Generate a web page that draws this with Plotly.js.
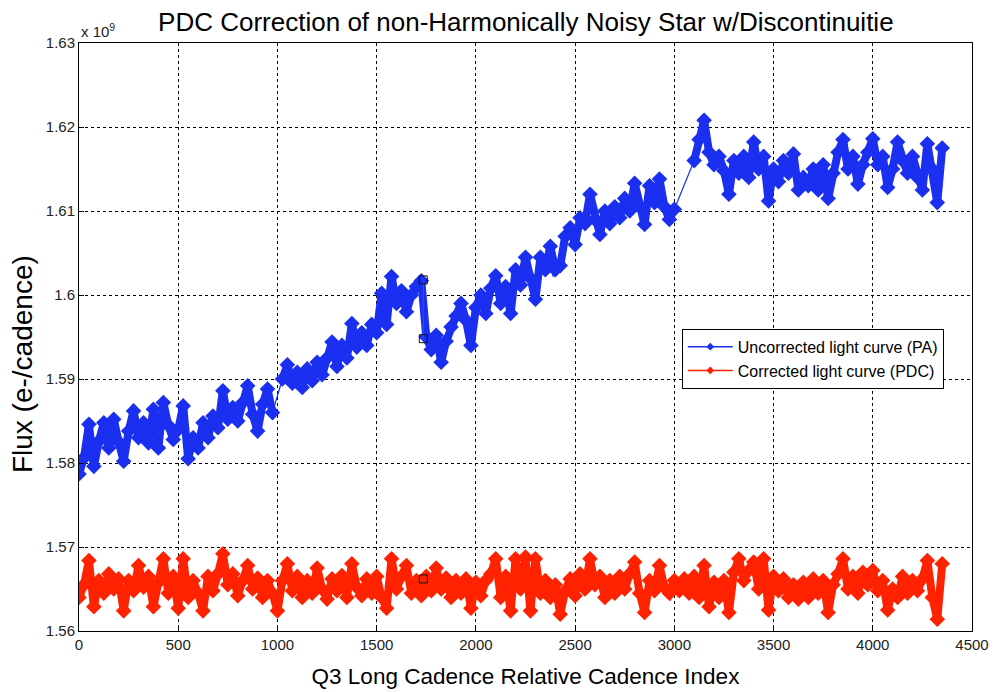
<!DOCTYPE html>
<html>
<head>
<meta charset="utf-8">
<script src="https://cdn.plot.ly/plotly-2.35.2.min.js"></script>
<style>
html,body{margin:0;padding:0;background:#fff;}
#chart{width:995px;height:692px;}
</style>
</head>
<body>
<div id="chart"></div>
<script>
// Cadence sampling of the read-off values (every 25 cadences, starting at 0)
const cadenceStart = 0;
const cadenceStep = 25;

// Uncorrected light curve (PA), flux in units of 1e9 e-/cadence (null = data gap)
const paFlux = [
1.5787,1.5806,1.5846,1.5796,1.5826,1.5848,1.5818,1.5852,1.5825,1.5802,
1.5838,1.5862,1.5830,1.5848,1.5824,1.5864,1.5818,1.5872,1.5845,1.5828,
1.5840,1.5868,1.5805,1.5830,1.5818,1.5848,1.5830,1.5856,1.5842,1.5886,
1.5852,1.5866,1.5850,1.5872,1.5892,1.5858,1.5838,1.5870,1.5888,1.5860,
null,1.5900,1.5917,1.5895,1.5908,1.5890,1.5912,1.5898,1.5920,1.5905,
1.5925,1.5944,1.5915,1.5940,1.5925,1.5966,1.5938,1.5955,1.5940,1.5965,
1.5955,1.6002,1.5965,1.6022,1.5990,1.6005,1.5980,1.6000,1.6010,1.6017,
1.5950,1.5935,1.5952,1.5920,1.5945,1.5962,1.5975,1.5990,1.5970,1.5940,
1.5985,1.6000,1.5978,1.6008,1.6023,1.5990,1.6010,1.5978,1.6030,1.6012,
1.6045,1.6020,1.5995,1.6045,1.6030,1.6058,1.6030,1.6035,1.6070,1.6080,
1.6060,1.6092,1.6085,1.6120,1.6090,1.6072,1.6100,1.6085,1.6105,1.6092,
1.6115,1.6100,1.6133,1.6105,1.6084,1.6130,1.6110,1.6138,1.6105,1.6090,
1.6102,null,null,null,1.6160,1.6185,1.6208,1.6170,1.6155,1.6165,
1.6148,1.6120,1.6160,1.6145,1.6165,1.6140,1.6182,1.6150,1.6165,1.6112,
1.6150,1.6135,1.6160,1.6145,1.6168,1.6125,1.6140,1.6130,1.6150,1.6125,
1.6155,1.6115,1.6145,1.6170,1.6185,1.6150,1.6165,1.6132,1.6155,1.6170,
1.6186,1.6155,1.6165,1.6128,1.6150,1.6182,1.6160,1.6145,1.6165,1.6140,
1.6125,1.6180,1.6150,1.6110,1.6175
];

// Corrected light curve (PDC), flux in units of 1e9 e-/cadence
const pdcFlux = [
1.5640,1.5655,1.5684,1.5629,1.5660,1.5645,1.5668,1.5650,1.5662,1.5624,
1.5660,1.5648,1.5678,1.5652,1.5665,1.5629,1.5658,1.5686,1.5645,1.5665,
1.5627,1.5686,1.5640,1.5660,1.5645,1.5624,1.5665,1.5648,1.5668,1.5692,
1.5655,1.5668,1.5642,1.5660,1.5678,1.5650,1.5663,1.5640,1.5660,1.5645,
1.5624,1.5660,1.5680,1.5648,1.5665,1.5640,1.5660,1.5645,1.5675,1.5650,
1.5638,1.5662,1.5648,1.5666,1.5640,1.5680,1.5652,1.5642,1.5662,1.5645,
1.5665,1.5640,1.5627,1.5686,1.5650,1.5665,1.5678,1.5645,1.5660,1.5642,
1.5665,1.5648,1.5675,1.5650,1.5663,1.5640,1.5660,1.5645,1.5662,1.5627,
1.5658,1.5642,1.5660,1.5668,1.5686,1.5640,1.5665,1.5624,1.5686,1.5650,
1.5688,1.5624,1.5686,1.5645,1.5660,1.5640,1.5655,1.5620,1.5648,1.5662,
1.5642,1.5668,1.5650,1.5686,1.5655,1.5665,1.5640,1.5660,1.5645,1.5665,
1.5650,1.5668,1.5682,1.5645,1.5622,1.5660,1.5648,1.5678,1.5652,1.5645,
1.5660,1.5648,1.5662,1.5645,1.5665,1.5640,1.5678,1.5629,1.5658,1.5640,
1.5660,1.5622,1.5670,1.5686,1.5660,1.5672,1.5682,1.5650,1.5686,1.5625,
1.5665,1.5648,1.5662,1.5640,1.5655,1.5638,1.5658,1.5640,1.5662,1.5645,
1.5660,1.5622,1.5655,1.5668,1.5686,1.5650,1.5665,1.5645,1.5670,1.5655,
1.5672,1.5648,1.5660,1.5625,1.5650,1.5640,1.5665,1.5645,1.5660,1.5648,
1.5662,1.5684,1.5640,1.5614,1.5680
];

// Discontinuity marks (square markers)
const discCadence = [1735, 1735];
const discPaFlux = [1.6018, 1.5948];
const discPdcCadence = [1735];
const discPdcFlux = [1.5662];

// Axis ticks
const xTickVals = [0,500,1000,1500,2000,2500,3000,3500,4000,4500];
const yTickVals = [1.56,1.57,1.58,1.59,1.60,1.61,1.62,1.63];
const yTickText = ["1.56","1.57","1.58","1.59","1.6","1.61","1.62","1.63"];

const seriesNames = ['Uncorrected light curve (PA)', 'Corrected light curve (PDC)'];

const cadenceOf = arr => arr.map((_, i) => cadenceStart + i * cadenceStep);

// Thin connector across data gaps: joins the last sample before and first after each gap
function gapConnectors(vals) {
  const cx = [], cy = [];
  let last = null;
  for (let i = 0; i < vals.length; i++) {
    if (vals[i] === null) continue;
    if (last !== null && i - last > 1) {
      cx.push(cadenceStart + last * cadenceStep, cadenceStart + i * cadenceStep, null);
      cy.push(vals[last], vals[i], null);
    }
    last = i;
  }
  return {x: cx, y: cy};
}

const BLUE = '#1a2ff0';
const RED = '#ff2200';
const FONT = 'Liberation Sans, Arial, Helvetica, sans-serif';

const paGaps = gapConnectors(paFlux);

const traces = [
  {
    x: paGaps.x, y: paGaps.y, type: 'scatter', mode: 'lines', showlegend: false,
    line: {color: BLUE, width: 1.2}
  },
  {
    x: cadenceOf(paFlux), y: paFlux, type: 'scatter', mode: 'lines+markers',
    name: seriesNames[0], connectgaps: false, showlegend: false,
    line: {color: BLUE, width: 8},
    marker: {color: BLUE, symbol: 'diamond', size: 12}
  },
  {
    x: cadenceOf(pdcFlux), y: pdcFlux, type: 'scatter', mode: 'lines+markers',
    name: seriesNames[1], connectgaps: false, showlegend: false,
    line: {color: RED, width: 8},
    marker: {color: RED, symbol: 'diamond', size: 12}
  },
  {
    x: discCadence, y: discPaFlux, type: 'scatter', mode: 'lines+markers',
    showlegend: false, line: {color: '#3a4fd0', width: 1},
    marker: {symbol: 'square-open', size: 8, color: '#111', line: {width: 1}}
  },
  {
    x: discPdcCadence, y: discPdcFlux, type: 'scatter', mode: 'markers',
    showlegend: false,
    marker: {symbol: 'square-open', size: 8, color: '#111', line: {width: 1}}
  },
  // legend-only entries (thin line with small marker, as in the reference legend)
  {
    x: [null], y: [null], type: 'scatter', mode: 'lines+markers', name: seriesNames[0],
    line: {color: BLUE, width: 1.5}, marker: {color: BLUE, symbol: 'diamond', size: 6}
  },
  {
    x: [null], y: [null], type: 'scatter', mode: 'lines+markers', name: seriesNames[1],
    line: {color: RED, width: 1.5}, marker: {color: RED, symbol: 'diamond', size: 6}
  }
];

const axisCommon = {
  showline: true, linecolor: '#000', linewidth: 1, mirror: true,
  ticks: 'inside', ticklen: 5, tickcolor: '#000',
  showgrid: true, gridcolor: '#000', griddash: 'dot', gridwidth: 1,
  zeroline: false,
  tickfont: {family: FONT, size: 15, color: '#222'}
};

const layout = {
  width: 995, height: 692,
  margin: {l: 79, r: 23, t: 43, b: 61},
  paper_bgcolor: '#fff', plot_bgcolor: '#fff',
  font: {family: FONT, color: '#000'},
  title: {
    text: 'PDC Correction of non-Harmonically Noisy Star w/Discontinuitie',
    font: {family: FONT, size: 26, color: '#000'},
    x: 0.5285, xanchor: 'center', y: 0.969, yanchor: 'middle'
  },
  xaxis: Object.assign({}, axisCommon, {
    range: [0, 4500], tickvals: xTickVals,
    title: {text: 'Q3 Long Cadence Relative Cadence Index', font: {family: FONT, size: 22.5, color: '#000'}, standoff: 16}
  }),
  yaxis: Object.assign({}, axisCommon, {
    range: [1.56, 1.63], tickvals: yTickVals, ticktext: yTickText
  }),
  legend: {
    x: 0.675, y: 0.514, xanchor: 'left', yanchor: 'top',
    bgcolor: '#fff', bordercolor: '#000', borderwidth: 1,
    font: {family: FONT, size: 16, color: '#000'},
    tracegroupgap: 0, itemwidth: 45
  },
  annotations: [
    {text: 'x 10<sup>9</sup>', xref: 'paper', yref: 'paper', x: 0.0, y: 1.0,
     xanchor: 'left', yanchor: 'bottom', showarrow: false, yshift: 1,
     font: {family: FONT, size: 15, color: '#222'}},
    {text: 'Flux (e-/cadence)', xref: 'paper', yref: 'paper', x: -0.0638, y: 0.454,
     xanchor: 'center', yanchor: 'middle', textangle: -90, showarrow: false,
     font: {family: FONT, size: 28, color: '#000'}}
  ],
  showlegend: true
};

Plotly.newPlot('chart', traces, layout, {displayModeBar: false, staticPlot: true});
</script>
</body>
</html>
